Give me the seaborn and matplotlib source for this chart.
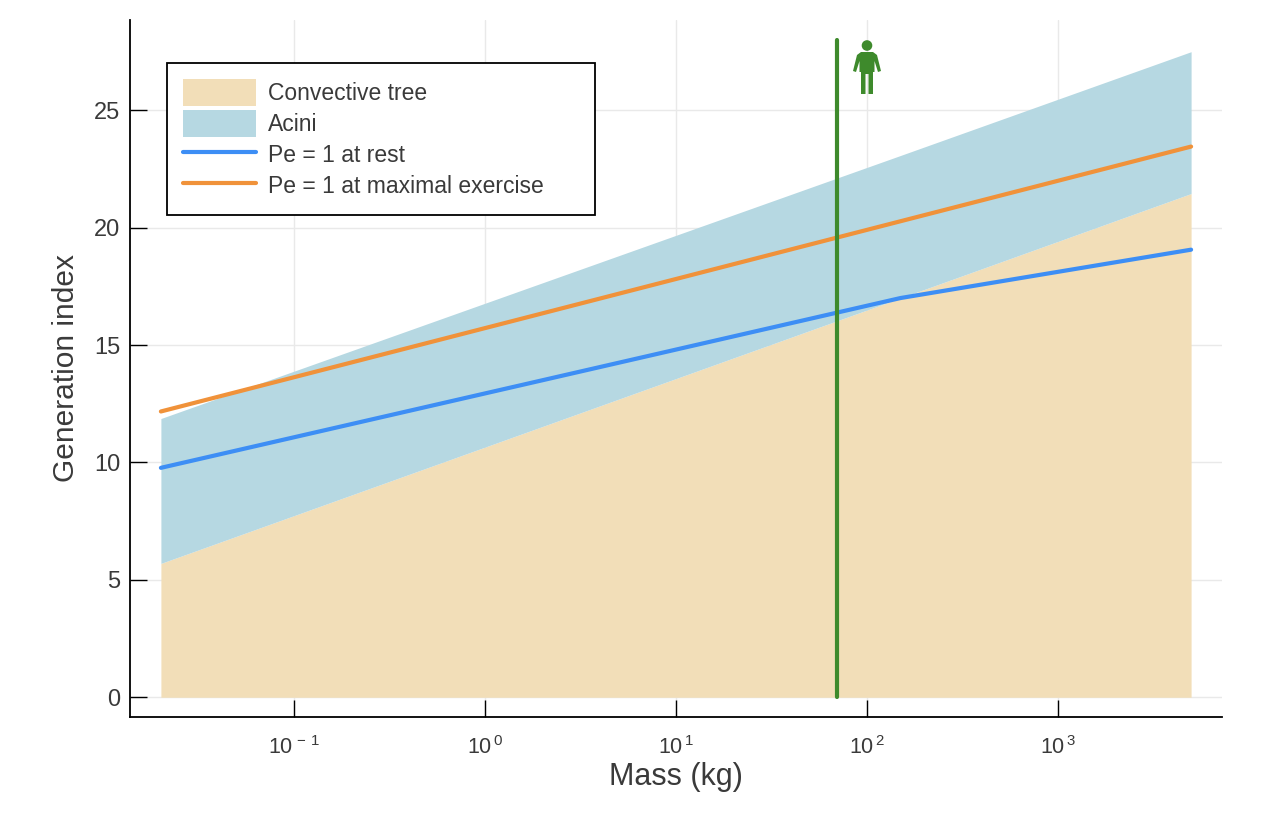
import numpy as np
import pandas as pd
import matplotlib
matplotlib.use("Agg")
import matplotlib.pyplot as plt
import matplotlib.patches as mpatches
import matplotlib.lines as mlines
from matplotlib.ticker import LogLocator, FuncFormatter, NullLocator
import seaborn as sns

# ---- data ----
mass = [0.02, 150, 5000]
convective_top = [5.70, 17.0, 21.45]
acini_top = [11.87, 23.07, 27.49]
pe_rest = [9.77, 17.0, 19.06]
pe_exercise = [12.17, 20.27, 23.45]
human_mass = 70
marker_top = 28
y_ticks = [0, 5, 10, 15, 20, 25]
legend_labels = ["Convective tree", "Acini", "Pe = 1 at rest", "Pe = 1 at maximal exercise"]

c_conv = "#F2DEB8"
c_acini = "#B6D8E2"
c_rest = "#3D8EF5"
c_ex = "#F0923A"
c_green = "#3E8A2C"
txt = "#3a3a3a"

sns.set_theme(style="white")
plt.rcParams['font.family'] = ['Liberation Sans', 'DejaVu Sans']
plt.rcParams['mathtext.fontset'] = 'custom'
plt.rcParams['mathtext.rm'] = 'Liberation Sans'
plt.rcParams['mathtext.it'] = 'Liberation Sans'
plt.rcParams['mathtext.bf'] = 'Liberation Sans'
plt.rcParams['axes.unicode_minus'] = False

fig = plt.figure(figsize=(12.76, 8.36), dpi=100)
W, H = 1276, 836
ax = fig.add_axes([130 / W, 1 - 717 / H, (1222 - 130) / W, (717 - 20) / H])

df = pd.DataFrame({
    "mass": mass * 2,
    "value": pe_rest + pe_exercise,
    "series": [legend_labels[2]] * len(mass) + [legend_labels[3]] * len(mass),
})

ax.fill_between(mass, 0, convective_top, color=c_conv, lw=0, zorder=1)
ax.fill_between(mass, convective_top, acini_top, color=c_acini, lw=0, zorder=1)
sns.lineplot(data=df, x="mass", y="value", hue="series", ax=ax,
             palette={legend_labels[2]: c_rest, legend_labels[3]: c_ex},
             lw=3, legend=False, zorder=3)
ax.plot([human_mass, human_mass], [0, marker_top], color=c_green, lw=3, zorder=4)

ax.set_xscale("log")
lo, hi = np.log10(mass[0]), np.log10(mass[-1])
pad = 0.03 * (hi - lo)
ax.set_xlim(10 ** (lo - pad), 10 ** (hi + pad))
ymax = marker_top
ax.set_ylim(-0.03 * ymax, ymax * 1.03)
ax.xaxis.set_major_locator(LogLocator(base=10, numticks=20))


def fmt(v, pos):
    e = int(round(np.log10(v)))
    return r"$\mathregular{10^{\,%s}}$" % (("-\\,1" if e == -1 else str(e)))


ax.xaxis.set_major_formatter(FuncFormatter(fmt))
ax.xaxis.set_minor_locator(NullLocator())
ax.set_yticks(y_ticks)

ax.grid(True, color="#e9e9e9", lw=1, zorder=0)
ax.set_axisbelow(True)
for s in ["top", "right"]:
    ax.spines[s].set_visible(False)
for s in ["left", "bottom"]:
    ax.spines[s].set_color("black")
    ax.spines[s].set_linewidth(1.3)
ax.tick_params(axis="both", direction="in", length=12, width=1, color="black",
               labelcolor=txt, left=True, bottom=True)
ax.tick_params(axis="x", pad=14, labelsize=15.5)
ax.tick_params(axis="y", pad=7, labelsize=17)

ax.set_xlabel("Mass (kg)", fontsize=22, color=txt, labelpad=2)
ax.set_ylabel("Generation index", fontsize=21.5, color=txt, labelpad=10)

handles = [
    mpatches.Patch(facecolor=c_conv, edgecolor="none"),
    mpatches.Patch(facecolor=c_acini, edgecolor="none"),
    mlines.Line2D([], [], color=c_rest, lw=3),
    mlines.Line2D([], [], color=c_ex, lw=3),
]
AW, AH = 1092, 697
leg = ax.legend(handles, legend_labels, loc="upper left",
                bbox_to_anchor=(37 / AW, (717 - 63) / AH - 155 / AH, 428 / AW, 155 / AH),
                mode="expand", borderaxespad=0,
                fontsize=16.5, frameon=True, fancybox=False, framealpha=1,
                handlelength=3.2, handleheight=1.44, labelspacing=0.175,
                handletextpad=0.52, borderpad=0.7)
leg.get_frame().set_edgecolor("black")
leg.get_frame().set_linewidth(1.3)
for t in leg.get_texts():
    t.set_color(txt)

# person icon
iax = fig.add_axes([850 / W, 1 - 97 / H, 34 / W, 60 / H])
iax.set_xlim(850, 884)
iax.set_ylim(97, 37)
iax.axis("off")
iax.add_patch(mpatches.Circle((867, 45.5), 4.6, color=c_green))
body = [(861, 52), (873, 52), (877, 55), (881, 71), (878, 72), (874.5, 61),
        (874.5, 72), (873, 72), (873, 94), (868.5, 94), (868.5, 74), (865.5, 74),
        (865.5, 94), (861, 94), (861, 72), (859.5, 72), (859.5, 61), (856, 72),
        (853, 71), (857, 55)]
iax.add_patch(mpatches.Polygon(body, closed=True, color=c_green, lw=0))

fig.savefig("out.png", dpi=100)
